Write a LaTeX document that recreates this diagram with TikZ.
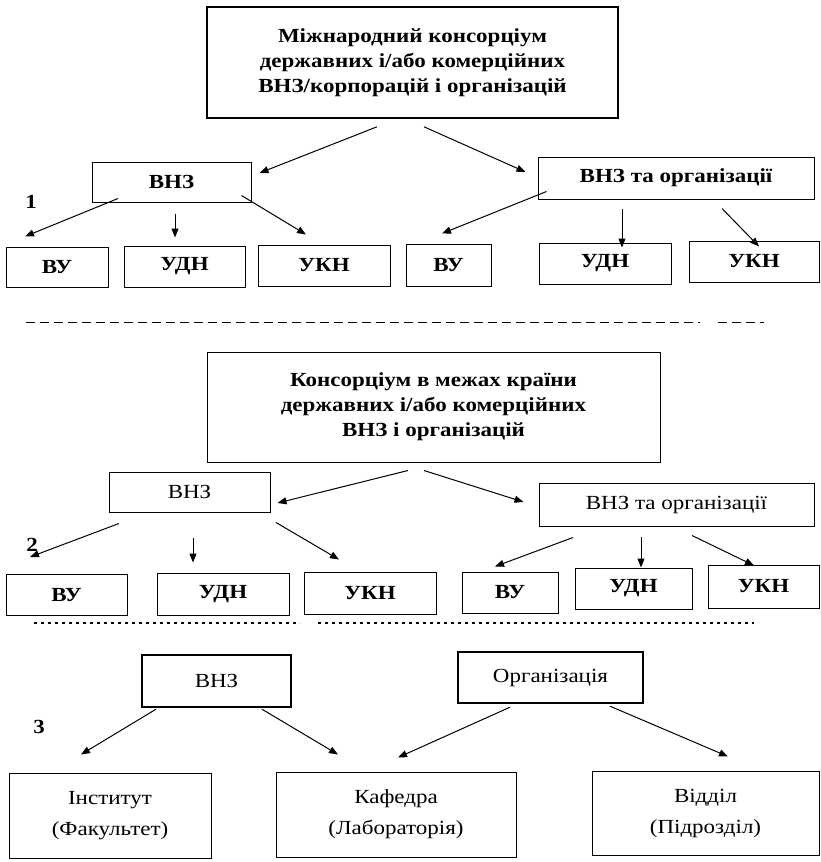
\documentclass[tikz,border=0pt]{standalone}
\usepackage{fontspec}
\setmainfont[FakeStretch=1.15]{Liberation Serif}
\usetikzlibrary{arrows.meta,calc}

\begin{document}
\begin{tikzpicture}[x=1pt,y=-1pt,
	box/.style={draw=black,line width=1pt,inner sep=0pt,align=center,font=\fontsize{20}{25}\selectfont},
	bbox/.style={box,font=\fontsize{20}{25}\selectfont\bfseries},
	thickbox/.style={box,line width=2.4pt},
	unitbox/.style={box,font=\fontsize{20}{31}\selectfont},
	arr/.style={-{Triangle[length=9pt,width=7pt]},line width=1pt},
	num/.style={font=\fontsize{20}{24}\selectfont\bfseries,inner sep=0pt}]
	\fill[white] (0,0) rectangle (821,862);
	\useasboundingbox (0,0) rectangle (821,862);
	%% level 1: international consortium
	\node[bbox,line width=1.6pt,minimum width=411pt,minimum height=111pt] (top) at (412.5,62.5) {Міжнародний консорціум\\державних і/або комерційних\\ВНЗ/корпорацій і організацій};
	\node[bbox,minimum width=159pt,minimum height=40pt] (vnzA) at (171.5,182) {ВНЗ};
	\node[bbox,minimum width=276pt,minimum height=42pt] (orgA) at (676,178) {ВНЗ та організації};
	\node[num] (n1) at (31,202) {1};
	\node[bbox,minimum width=102pt,minimum height=40pt] (vuA) at (57,267) {ВУ};
	\node[bbox,minimum width=121pt,minimum height=41pt] (udnA) at (184.5,266.5) {УДН};
	\node[bbox,minimum width=132pt,minimum height=41pt] (uknA) at (324,265.5) {УКН};
	\node[bbox,minimum width=85pt,minimum height=42pt] (vuB) at (448.5,265) {ВУ};
	\node[bbox,minimum width=132pt,minimum height=41pt] (udnB) at (605,263.5) {УДН};
	\node[bbox,minimum width=130pt,minimum height=41pt] (uknB) at (754,261.5) {УКН};
	% the arrows
	\draw[arr] ($(top.south)+(-35.5,8)$) -- ($(vnzA.east)+(8,-9)$);
	\draw[arr] ($(top.south)+(11.5,8)$) -- ($(orgA.west)+(-12,-6)$);
	\draw[arr] ($(vnzA.south)+(-53.5,-4)$) -- ($(vuA.north)+(-32,-10)$);
	\draw[arr] ($(vnzA.south)+(3.5,11)$) -- ($(udnA.north)+(-9.5,-8)$);
	\draw[arr] ($(vnzA.south east)+(-10,-7)$) -- ($(uknA.north)+(-18,-10)$);
	\draw[arr] ($(orgA.south west)+(9,-8)$) -- ($(vuB.north)+(-6.5,-10)$);
	\draw[arr] ($(orgA.south)+(-54,9)$) -- ($(udnB.north)+(17,5)$);
	\draw[arr] ($(orgA.south)+(46,9)$) -- ($(uknB.north)+(5,6)$);
	%% separator
	\draw[line width=1pt,dash pattern=on 9pt off 5pt] (26,322) -- (700,322);
	\draw[line width=1pt,dash pattern=on 9pt off 5pt] (718,322) -- (764,322);
	%% level 2: national consortium
	\node[bbox,minimum width=453pt,minimum height=110pt] (top2) at (433.5,407) {Консорціум в межах країни\\державних і/або комерційних\\ВНЗ і організацій};
	\node[box,minimum width=161pt,minimum height=40pt] (vnzC) at (189.5,492) {ВНЗ};
	\node[box,minimum width=275pt,minimum height=43pt] (orgC) at (676.5,504.5) {ВНЗ та організації};
	\node[num] (n2) at (32,545) {2};
	\node[bbox,minimum width=121pt,minimum height=41pt] (vuC) at (66.5,595) {ВУ};
	\node[bbox,minimum width=132pt,minimum height=42pt] (udnC) at (223,594) {УДН};
	\node[bbox,minimum width=132pt,minimum height=42pt] (uknC) at (370,593) {УКН};
	\node[bbox,minimum width=96pt,minimum height=41pt] (vuD) at (510,592.5) {ВУ};
	\node[bbox,minimum width=117pt,minimum height=41pt] (udnD) at (633.5,588.5) {УДН};
	\node[bbox,minimum width=111pt,minimum height=43pt] (uknD) at (763.5,586.5) {УКН};
	% the arrows
	\draw[arr] ($(top2.south)+(-25.5,8)$) -- ($(vnzC.east)+(7,11)$);
	\draw[arr] ($(top2.south)+(-9.5,8)$) -- ($(orgC.west)+(-15,-2.5)$);
	\draw[arr] ($(vnzC.south)+(-70.5,11)$) -- ($(vuC.north)+(-36.5,-17)$);
	\draw[arr] ($(vnzC.south)+(3.5,25)$) -- ($(udnC.north)+(-30,-10)$);
	\draw[arr] ($(vnzC.south)+(86.5,10)$) -- ($(uknC.north)+(-31,-12)$);
	\draw[arr] ($(orgC.south)+(-103.5,11)$) -- ($(vuD.north)+(-15,-5)$);
	\draw[arr] ($(orgC.south)+(-35.5,10)$) -- ($(udnD.north)+(7.5,0)$);
	\draw[arr] ($(orgC.south)+(15.5,9)$) -- ($(uknD.north)+(-9.5,1)$);
	%% separator
	\draw[line width=1.2pt,dash pattern=on 3pt off 4pt] (34,623) -- (300,623);
	\draw[line width=1.2pt,dash pattern=on 3pt off 4pt] (318,623) -- (754,623);
	%% level 3: units
	\node[thickbox,minimum width=149pt,minimum height=52pt] (vnzE) at (216.5,681) {ВНЗ};
	\node[thickbox,minimum width=185pt,minimum height=51pt] (orgE) at (550.5,677.5) {Організація};
	\node[num] (n3) at (39,727) {3};
	\node[unitbox,minimum width=202pt,minimum height=85pt] (inst) at (110,815.5) {Інститут\\(Факультет)};
	\node[unitbox,minimum width=240pt,minimum height=85pt] (kaf) at (396,814.5) {Кафедра\\(Лабораторія)};
	\node[unitbox,minimum width=227pt,minimum height=84pt] (vidd) at (705.5,813) {Відділ\\(Підрозділ)};
	% the arrows
	\draw[arr] ($(vnzE.south)+(-60.5,1)$) -- ($(inst.north)+(-29,-18)$);
	\draw[arr] ($(vnzE.south)+(45.5,1)$) -- ($(kaf.north)+(-58,-17)$);
	\draw[arr] ($(orgE.south)+(-40.5,3)$) -- ($(kaf.north)+(2,-14)$);
	\draw[arr] ($(orgE.south)+(59.5,2)$) -- ($(vidd.north)+(22.5,-14)$);
\end{tikzpicture}
\end{document}
